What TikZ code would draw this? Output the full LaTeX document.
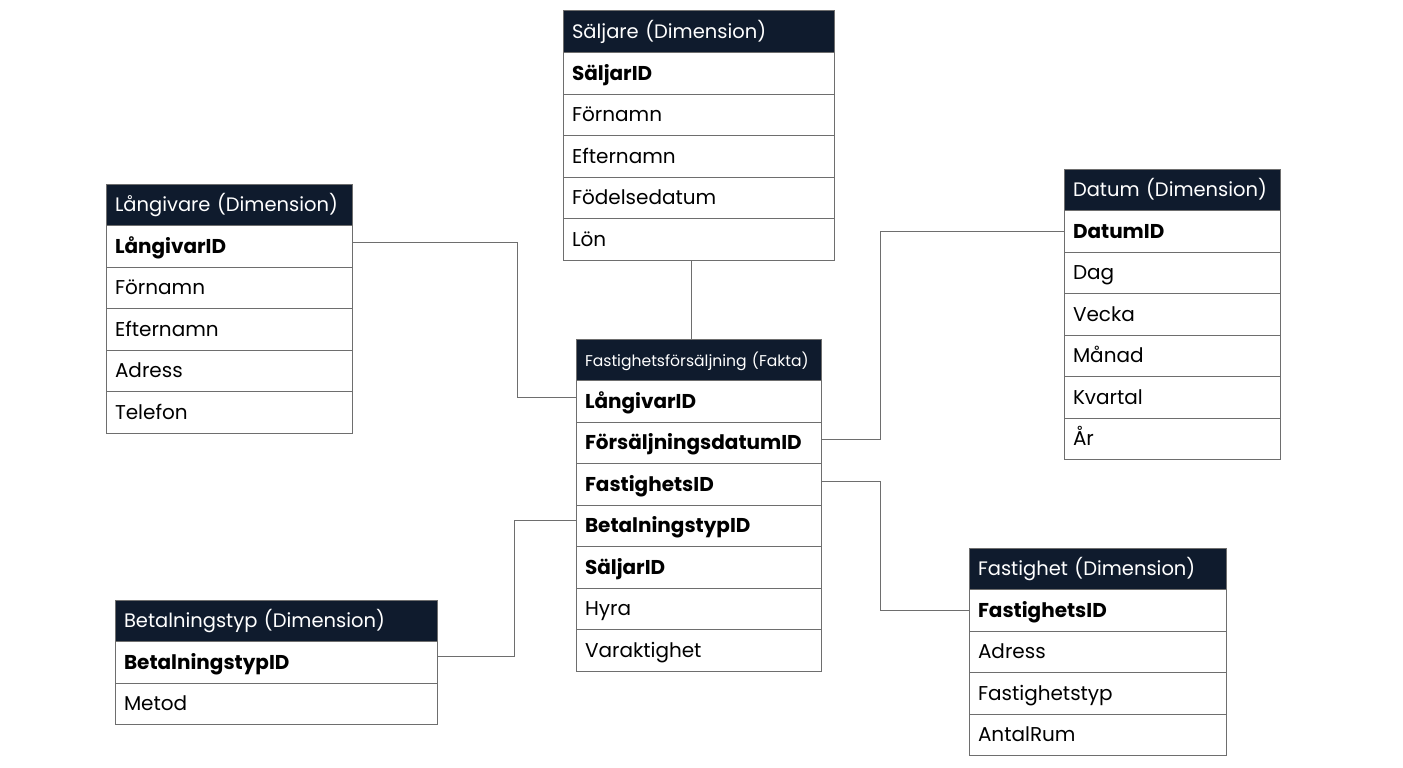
\documentclass[tikz,border=0pt]{standalone}
\usepackage{fontspec}
\setmainfont{Poppins}
\usetikzlibrary{positioning}
\definecolor{hdrblue}{HTML}{0F1B2D}
\definecolor{edgegrey}{HTML}{6E6E6E}
\tikzset{
  cell/.style={draw=edgegrey, line width=1pt, fill=white, minimum height=41.5pt,
    inner xsep=9pt, inner ysep=0pt, outer sep=0pt, align=left,
    text height=16pt, text depth=2pt, font=\fontsize{20}{23}\selectfont},
  hdr/.style={cell, fill=hdrblue, text=white, font=\fontsize{19.5}{23}\selectfont},
  keycell/.style={cell, font=\fontsize{20}{23}\selectfont\bfseries},
  link/.style={draw=edgegrey, line width=1pt}
}
\begin{document}
\begin{tikzpicture}[x=1pt,y=-1pt]
\useasboundingbox[fill=white] (0,0) rectangle (1403,768);
% Saljare
\node[hdr, text width=253pt, anchor=north west] (sh) at (563,11) {Säljare (Dimension)};
\node[keycell, text width=253pt, below=0pt of sh] (s1) {SäljarID};
\node[cell, text width=253pt, below=0pt of s1] (s2) {Förnamn};
\node[cell, text width=253pt, below=0pt of s2] (s3) {Efternamn};
\node[cell, text width=253pt, below=0pt of s3] (s4) {Födelsedatum};
\node[cell, text width=253pt, below=0pt of s4] (s5) {Lön};
% Langivare
\node[hdr, text width=228pt, anchor=north west] (lh) at (106,184) {Långivare (Dimension)};
\node[keycell, text width=228pt, below=0pt of lh] (l1) {LångivarID};
\node[cell, text width=228pt, below=0pt of l1] (l2) {Förnamn};
\node[cell, text width=228pt, below=0pt of l2] (l3) {Efternamn};
\node[cell, text width=228pt, below=0pt of l3] (l4) {Adress};
\node[cell, text width=228pt, below=0pt of l4] (l5) {Telefon};
% Datum
\node[hdr, text width=198pt, anchor=north west] (dh) at (1064,169) {Datum (Dimension)};
\node[keycell, text width=198pt, below=0pt of dh] (d1) {DatumID};
\node[cell, text width=198pt, below=0pt of d1] (d2) {Dag};
\node[cell, text width=198pt, below=0pt of d2] (d3) {Vecka};
\node[cell, text width=198pt, below=0pt of d3] (d4) {Månad};
\node[cell, text width=198pt, below=0pt of d4] (d5) {Kvartal};
\node[cell, text width=198pt, below=0pt of d5] (d6) {År};
% Fakta
\node[hdr, text width=227pt, anchor=north west, font=\fontsize{15.6}{19}\selectfont] (fh) at (576,339) {Fastighetsförsäljning (Fakta)};
\node[keycell, text width=227pt, below=0pt of fh] (f1) {LångivarID};
\node[keycell, text width=227pt, below=0pt of f1] (f2) {FörsäljningsdatumID};
\node[keycell, text width=227pt, below=0pt of f2] (f3) {FastighetsID};
\node[keycell, text width=227pt, below=0pt of f3] (f4) {BetalningstypID};
\node[keycell, text width=227pt, below=0pt of f4] (f5) {SäljarID};
\node[cell, text width=227pt, below=0pt of f5] (f6) {Hyra};
\node[cell, text width=227pt, below=0pt of f6] (f7) {Varaktighet};
% Fastighet
\node[hdr, text width=239pt, anchor=north west] (ph) at (969,548) {Fastighet (Dimension)};
\node[keycell, text width=239pt, below=0pt of ph] (p1) {FastighetsID};
\node[cell, text width=239pt, below=0pt of p1] (p2) {Adress};
\node[cell, text width=239pt, below=0pt of p2] (p3) {Fastighetstyp};
\node[cell, text width=239pt, below=0pt of p3] (p4) {AntalRum};
% Betalningstyp
\node[hdr, text width=304pt, anchor=north west] (bh) at (115,600) {Betalningstyp (Dimension)};
\node[keycell, text width=304pt, below=0pt of bh] (b1) {BetalningstypID};
\node[cell, text width=304pt, below=0pt of b1] (b2) {Metod};
% connectors
\draw[link] ([yshift=4pt]l1.east) -- ++(165,0) |- ([yshift=3.5pt]f1.west);
\draw[link] ([xshift=-7pt]s5.south) -- ([xshift=-7pt]fh.north);
\draw[link] (d1.west) -- ++(-184,0) |- ([yshift=3pt]f2.east);
\draw[link] ([yshift=2.5pt]f3.east) -- ++(59,0) |- (p1.west);
\draw[link] ([yshift=6pt]b1.east) -- ++(77,0) |- ([yshift=5pt]f4.west);
\end{tikzpicture}
\end{document}
